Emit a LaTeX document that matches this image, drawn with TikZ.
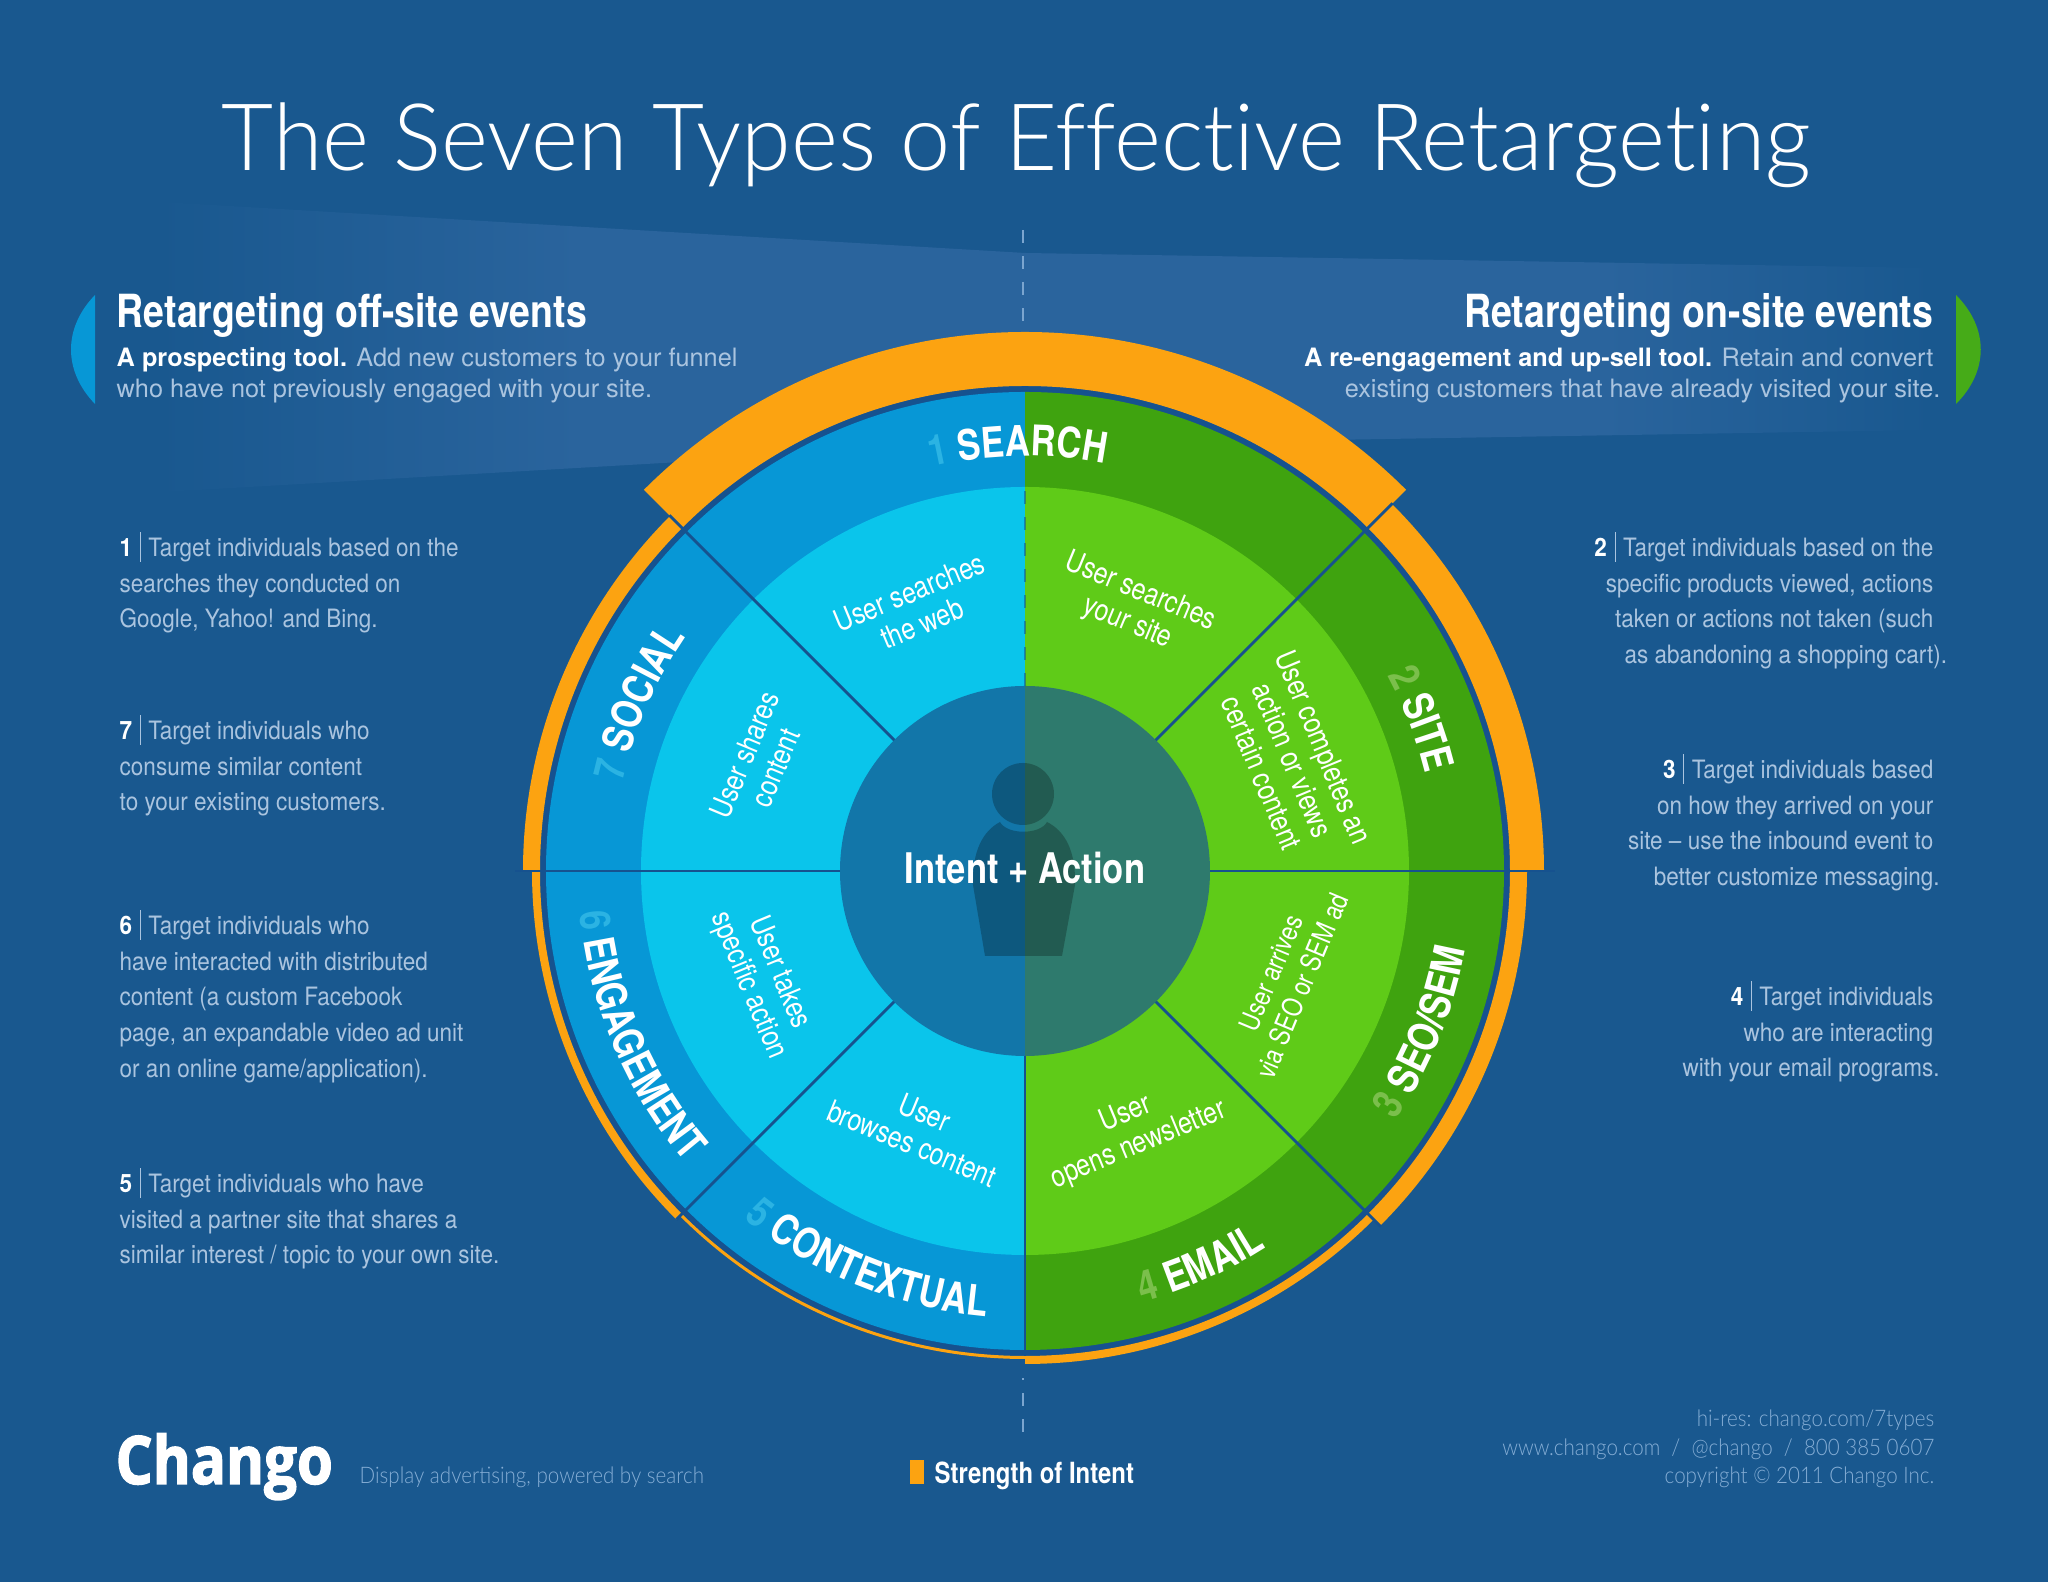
\documentclass[tikz,border=0pt]{standalone}
\usepackage{fontspec}
\setmainfont{TeX Gyre Heros}
\newfontfamily\narrowfont[FakeStretch=0.89]{TeX Gyre Heros}
\newfontfamily\ringfont[FakeStretch=0.82]{TeX Gyre Heros}
\newfontfamily\thinfont[FakeStretch=0.965,Ligatures=NoCommon]{Lato Light}
\newfontfamily\lightfont[FakeStretch=0.9]{Lato Light}
\newfontfamily\logofont[FakeStretch=0.87,FakeBold=2]{Open Sans}
\usetikzlibrary{decorations.text}

\definecolor{pagebg}{HTML}{19588F}
\definecolor{gapblue}{HTML}{16528F}
\definecolor{bandblue}{HTML}{2A649D}
\definecolor{outerblue}{HTML}{0797D6}
\definecolor{innerblue}{HTML}{0AC5EB}
\definecolor{coreblue}{HTML}{1276A9}
\definecolor{outergreen}{HTML}{3FA30F}
\definecolor{innergreen}{HTML}{5FCB18}
\definecolor{coregreen}{HTML}{2E7A6D}
\definecolor{tabgreen}{HTML}{46AB18}
\definecolor{strength}{HTML}{FCA311}
\definecolor{paletext}{HTML}{AAC4DF}
\definecolor{foottext}{HTML}{85ADD5}
\definecolor{dashblue}{HTML}{7BA5CF}
\definecolor{numblue}{HTML}{2BB3E3}
\definecolor{numgreen}{HTML}{7BBF4C}

\pgfdeclarehorizontalshading{bandleft}{100bp}{color(0bp)=(pagebg); color(30bp)=(pagebg); color(52bp)=(bandblue); color(100bp)=(bandblue)}
\pgfdeclarehorizontalshading{bandright}{100bp}{color(0bp)=(bandblue); color(55bp)=(bandblue); color(72bp)=(pagebg); color(100bp)=(pagebg)}

\tikzset{
	heading/.style = {inner sep = 0, text = white, font = \ringfont\bfseries\fontsize{13}{15}\selectfont},
	subline/.style = {inner sep = 0, text = paletext, font = \fontsize{7.2}{8.8}\selectfont},
	listleft/.style = {inner sep = 0, anchor = north west, align = left, text = paletext, font = \narrowfont\fontsize{7.2}{10.2}\selectfont},
	listright/.style = {inner sep = 0, anchor = north east, align = right, text = paletext, font = \narrowfont\fontsize{7.2}{10.2}\selectfont},
	slice/.style = {inner sep = 0, align = center, text = white, font = \ringfont\fontsize{8.6}{9.6}\selectfont},
	ringtext/.style = {decorate, decoration = {text along path, text align = center, text = {#1}}},
	divider/.style = {gapblue, line width = 0.8pt},
	footline/.style = {inner sep = 0, anchor = base east, text = foottext, font = \lightfont\fontsize{6.5}{8}\selectfont},
}
\newcommand{\num}[1]{\textcolor{white}{\bfseries #1}\hspace{0.3em}\textcolor{paletext}{\rule[-1.5pt]{0.25pt}{8.5pt}}\hspace{0.3em}}
\newcommand{\ringbold}{\ringfont\bfseries\fontsize{12}{14}\selectfont}

\begin{document}
\begin{tikzpicture}[xscale = 1, yscale = 1]
	\useasboundingbox (0,0) rectangle (20.48,15.82);
	\fill[pagebg] (0,0) rectangle (20.48,15.82);
	
	\shade[shading = bandleft] (0.6,13.86) -- (10.25,13.29) -- (10.25,11.4) -- (0.6,10.84) -- cycle;
	\shade[shading = bandright] (10.25,13.29) -- (19.9,13.13) -- (19.9,11.53) -- (10.25,11.37) -- cycle;
	
	\draw[dashblue, line width = 0.5pt, dash pattern = on 3.7pt off 3.7pt] (10.23,13.52) -- (10.23,12.6);
	\draw[dashblue, line width = 0.4pt, dash pattern = on 3.7pt off 3.7pt] (10.23,1.5) -- (10.23,2.04);
	
	\fill[gapblue] (10.25,7.11) circle (4.85);
	
	\begin{scope}[shift={(10.25,7.11)}]
		\foreach \from/\to/\out in {45/135/5.39, 0/45/5.19, -45/0/5.02, -90/-45/4.93, -135/-90/4.88, -180/-135/4.93, 135/180/5.02}
			\fill[strength] (\from:4.85) arc (\from:\to:4.85) -- (\to:\out) arc (\to:\from:\out) -- cycle;
		
		\fill[outerblue] (0,4.79) arc (90:270:4.79) -- cycle;
		\fill[outergreen] (0,4.79) arc (90:-90:4.79) -- cycle;
		\fill[innerblue] (0,3.84) arc (90:270:3.84) -- cycle;
		\fill[innergreen] (0,3.84) arc (90:-90:3.84) -- cycle;
		\fill[coreblue] (0,1.85) arc (90:270:1.85) -- cycle;
		\fill[coregreen] (0,1.85) arc (90:-90:1.85) -- cycle;
		
		\foreach \ang/\out in {45/5.2, 135/5.03, 225/4.93, 315/5.03, 0/5.3, 180/5.1}
			\draw[divider] (\ang:1.85) -- (\ang:\out);
		\draw[divider] (0,-1.85) -- (0,-4.85);
		\draw[gapblue, opacity = 0.55, line width = 0.8pt, dash pattern = on 3.7pt off 3.7pt] (0,1.85) -- (0,3.84);
		
		\fill[black, opacity = 0.25] (-0.02,0.77) circle (0.31);
		\fill[black, opacity = 0.25] (-0.40,-0.85) -- (-0.52,-0.14) .. controls (-0.53,0.2) and (-0.42,0.40) .. (-0.25,0.49) .. controls (-0.18,0.36) and (0.15,0.36) .. (0.22,0.49) .. controls (0.40,0.40) and (0.51,0.2) .. (0.50,-0.14) -- (0.37,-0.85) -- cycle;
		\node[heading, font = \ringfont\bfseries\fontsize{12}{14}\selectfont] (core) at (0,0.03) {Intent + Action};
		
		\node[slice, rotate = 22.5] (websearch) at (112.5:2.85) {User searches\\the web};
		\node[slice, rotate = -22.5] (sitesearch) at (67.5:2.85) {User searches\\your site};
		\node[slice, rotate = -67.5] (completes) at (22.5:2.9) {User completes an\\action or views\\certain content};
		\node[slice, rotate = 67.5, font = \ringfont\fontsize{7.9}{9.6}\selectfont] (arrives) at (-22.5:2.83) {User arrives\\via SEO or SEM ad};
		\node[slice, rotate = 22.5] (newsletter) at (-67.5:2.8) {User\\opens newsletter};
		\node[slice, rotate = -22.5] (browses) at (-112.5:2.78) {User\\browses content};
		\node[slice, rotate = -67.5] (takes) at (-157.5:2.83) {User takes\\specific action};
		\node[slice, rotate = 67.5] (shares) at (157.5:2.87) {User shares\\content};
		
		\path[ringtext = {|\ringbold\color{numblue}|1 |\ringbold\color{white}|SEARCH}] (131:4.15) arc (131:51:4.15);
		\path[ringtext = {|\ringbold\color{numgreen}|2 |\ringbold\color{white}|SITE}] (61:4.12) arc (61:-19:4.12);
		\path[ringtext = {|\ringbold\color{numgreen}|3 |\ringbold\color{white}|SEO/SEM}] (-62:4.47) arc (-62:18:4.47);
		\path[ringtext = {|\ringbold\color{numgreen}|4 |\ringbold\color{white}|EMAIL}] (-106:4.47) arc (-106:-26:4.47);
		\path[ringtext = {|\ringbold\color{numblue}|5 |\ringbold\color{white}|CONTEXTUAL}] (-152:4.47) arc (-152:-72:4.47);
		\path[ringtext = {|\ringbold\color{numblue}|6 |\ringbold\color{white}|ENGAGEMENT}] (163:4.47) arc (163:243:4.47);
		\path[ringtext = {|\ringbold\color{numblue}|7 |\ringbold\color{white}|SOCIAL}] (196.5:4.12) arc (196.5:116.5:4.12);
	\end{scope}
	
	\node[inner sep = 0, anchor = base, text = white, font = \thinfont\fontsize{26.5}{30}\selectfont] (title) at (10.16,14.11) {The Seven Types of Effective Retargeting};
	
	\fill[outerblue] (0.95,12.87) .. controls (0.63,12.54) and (0.63,12.11) .. (0.95,11.78) -- cycle;
	\fill[tabgreen] (19.56,12.87) .. controls (19.89,12.54) and (19.89,12.11) .. (19.56,11.78) -- cycle;
	
	\node[heading, anchor = base west] (offsite) at (1.16,12.545) {Retargeting off-site events};
	\node[subline, anchor = base west] (offone) at (1.16,12.15) {\textcolor{white}{\bfseries A prospecting tool.} Add new customers to your funnel};
	\node[subline, anchor = base west] (offtwo) at (1.16,11.84) {who have not previously engaged with your site.};
	
	\node[heading, anchor = base east] (onsite) at (19.34,12.545) {Retargeting on-site events};
	\node[subline, anchor = base east] (onone) at (19.34,12.15) {\textcolor{white}{\bfseries A re-engagement and up-sell tool.} Retain and convert};
	\node[subline, anchor = base east] (ontwo) at (19.34,11.84) {existing customers that have already visited your site\rlap{.}};
	
	\node[listleft] (one) at (1.19,10.51) {\num{1}Target individuals based on the\\searches they conducted on\\Google, Yahoo! and Bing.};
	\node[listleft] (seven) at (1.19,8.68) {\num{7}Target individuals who\\consume similar content\\to your existing customers.};
	\node[listleft] (six) at (1.19,6.73) {\num{6}Target individuals who\\have interacted with distributed\\content (a custom Facebook\\page, an expandable video ad unit\\or an online game/application).};
	\node[listleft] (five) at (1.19,4.15) {\num{5}Target individuals who have\\visited a partner site that shares a\\similar interest / topic to your own site.};
	
	\node[listright] (two) at (19.34,10.51) {\num{2}Target individuals based on the\\specific products viewed, actions\\taken or actions not taken (such\\as abandoning a shopping cart\rlap{).}};
	\node[listright] (three) at (19.34,8.29) {\num{3}Target individuals based\\on how they arrived on your\\site – use the inbound event to\\better customize messaging\rlap{.}};
	\node[listright] (four) at (19.34,6.02) {\num{4}Target individuals\\who are interacting\\with your email programs\rlap{.}};
	
	\node[inner sep = 0, anchor = base west, text = white, font = \logofont\bfseries\fontsize{19}{20}\selectfont] (logo) at (1.15,0.98) {Chango};
	\node[inner sep = 0, anchor = base west, text = foottext, font = \lightfont\fontsize{6.5}{8}\selectfont] (tagline) at (3.59,0.98) {Display advertising, powered by search};
	
	\node[inner sep = 0, anchor = south west, fill = strength, minimum width = 0.14cm, minimum height = 0.24cm] (swatch) at (9.09,0.97) {};
	\node[inner sep = 0, anchor = base west, text = white, font = \ringfont\bfseries\fontsize{8.3}{10}\selectfont] (legend) at (9.34,0.98) {Strength of Intent};
	
	\node[footline] (hires) at (19.35,1.55) {hi-res: chango.com/7types};
	\node[footline] (web) at (19.35,1.26) {www.chango.com~~/~~@chango~~/~~800 385 0607};
	\node[footline] (rights) at (19.35,0.98) {copyright © 2011 Chango Inc.};
\end{tikzpicture}
\end{document}
